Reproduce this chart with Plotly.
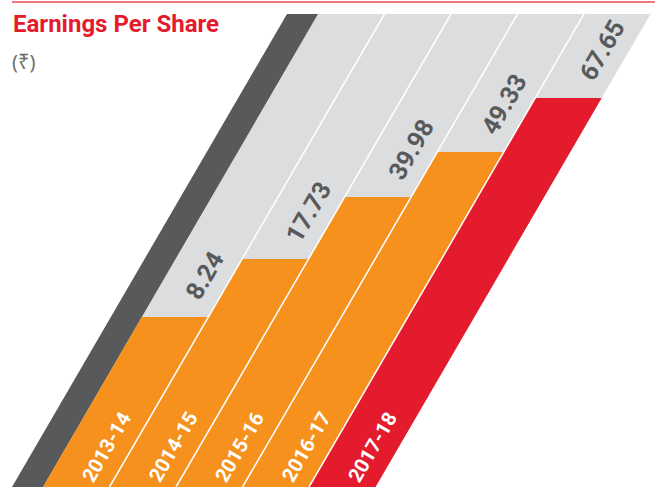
import plotly.graph_objects as go

years = ["2013-14", "2014-15", "2015-16", "2016-17", "2017-18"]
eps = [8.24, 17.73, 39.98, 49.33, 67.65]
# drawn column heights in the artwork (px above the base); not to scale with eps
bar_levels = [170, 228, 290, 335, 389]
column_top = 473

ORANGE = "#f7911e"
RED = "#e31b2d"
DARK = "#58595b"
LIGHT = "#dcdddf"
bar_colors = [ORANGE, ORANGE, ORANGE, ORANGE, RED]

W, H = 655, 487
SLANT = 275 / 473          # horizontal shift per unit of height (about 60 deg lean)
BAND_X0, BAND_W = 12, 31   # dark band on the left
COL_X0, COL_W = 43, 66.5   # first column and column width at the base


def para(x0, w, y0, y1):
    xs = [x0 + SLANT * y0, x0 + w + SLANT * y0, x0 + w + SLANT * y1, x0 + SLANT * y1, x0 + SLANT * y0]
    ys = [y0, y0, y1, y1, y0]
    return xs, ys


def patch(xs, ys, color):
    return go.Scatter(x=xs, y=ys, mode="lines", fill="toself", fillcolor=color,
                      line=dict(width=0, color=color), hoverinfo="skip", showlegend=False)


fig = go.Figure()

# dark band
fig.add_trace(patch(*para(BAND_X0, BAND_W + 0.5, 0, column_top), DARK))

for i, (lvl, col) in enumerate(zip(bar_levels, bar_colors)):
    x0 = COL_X0 + i * COL_W
    fig.add_trace(patch(*para(x0, COL_W, 0, column_top), LIGHT))
    fig.add_trace(patch(*para(x0, COL_W, 0, lvl), col))

# white separators between the columns
for i in range(1, len(years)):
    x0 = COL_X0 + i * COL_W
    fig.add_trace(go.Scatter(x=[x0, x0 + SLANT * column_top], y=[0, column_top], mode="lines",
                             line=dict(color="white", width=1.5), hoverinfo="skip", showlegend=False))

annotations = []
for i, (yr, v, lvl) in enumerate(zip(years, eps, bar_levels)):
    cx = COL_X0 + i * COL_W + COL_W / 2
    label = f"{v:.2f}"
    yv = lvl + 16 + len(label) * 6.3
    annotations.append(dict(x=cx + SLANT * yv + 6, y=yv, text=f"<b>{label}</b>", textangle=-60,
                            showarrow=False, xanchor="center", yanchor="middle",
                            font=dict(family="Roboto", size=25, color=DARK)))
    yy = 40
    annotations.append(dict(x=cx + SLANT * yy + 7, y=yy, text=f"<b>{yr}</b>", textangle=-60,
                            showarrow=False, xanchor="center", yanchor="middle",
                            font=dict(family="Roboto", size=20, color="white")))

annotations.append(dict(x=11, y=H - 24, text="<b>Earnings Per Share</b>", showarrow=False,
                        xanchor="left", yanchor="middle",
                        font=dict(family="Roboto", size=24, color=RED)))
annotations.append(dict(x=10, y=H - 61, text="(₹)", showarrow=False,
                        xanchor="left", yanchor="middle",
                        font=dict(family="Noto Sans", size=20, color="#6d6e71")))

fig.update_layout(
    width=W, height=H,
    margin=dict(l=0, r=0, t=0, b=0),
    paper_bgcolor="white", plot_bgcolor="white",
    xaxis=dict(range=[0, W], visible=False, fixedrange=True),
    yaxis=dict(range=[0, H], visible=False, fixedrange=True),
    annotations=annotations,
    shapes=[dict(type="line", x0=12, x1=W, y0=H - 2, y1=H - 2,
                 line=dict(color="#e84c57", width=1.5))],
)

fig.write_html("out.html", config={"displayModeBar": False},
               post_script="document.body.style.margin='0px';document.body.style.overflow='hidden';")
